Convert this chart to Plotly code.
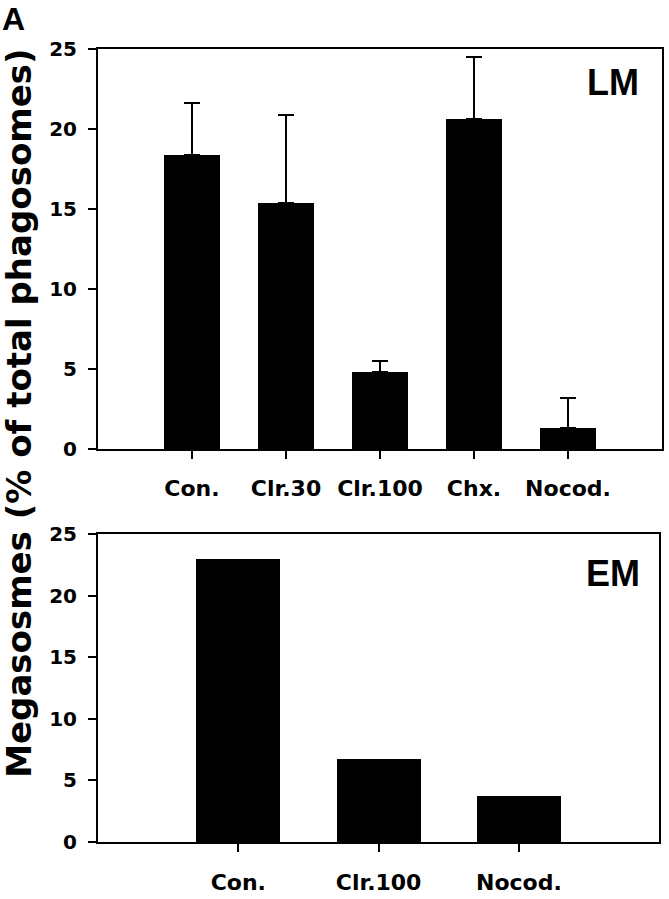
import plotly.graph_objects as go

# Top panel (LM)
lm_categories = ["Con.", "Clr.30", "Clr.100", "Chx.", "Nocod."]
lm_values = [18.4, 15.4, 4.8, 20.6, 1.3]
lm_err_upper = [3.2, 5.5, 0.7, 3.9, 1.9]

# Bottom panel (EM)
em_categories = ["Con.", "Clr.100", "Nocod."]
em_values = [23.0, 6.7, 3.7]

y_ticks = [0, 5, 10, 15, 20, 25]

FONT = "DejaVu Sans"
FONT2 = "Liberation Sans"

fig = go.Figure()
fig.add_trace(go.Bar(
    x=lm_categories, y=lm_values, width=0.6,
    marker=dict(color="black", line=dict(width=0)),
    error_y=dict(type="data", array=lm_err_upper, arrayminus=[0] * len(lm_err_upper),
                 symmetric=False, color="black", thickness=2, width=8),
    xaxis="x", yaxis="y", showlegend=False,
))
fig.add_trace(go.Bar(
    x=em_categories, y=em_values, width=0.6,
    marker=dict(color="black", line=dict(width=0)),
    xaxis="x2", yaxis="y2", showlegend=False,
))

axis_common = dict(
    showline=True, linecolor="black", linewidth=2, mirror=True,
    showgrid=False, zeroline=False, automargin=False,
    ticks="outside", ticklen=8, tickwidth=2, tickcolor="black",
)

fig.update_layout(
    width=669, height=899,
    margin=dict(l=98, r=7, t=49, b=57),
    paper_bgcolor="white", plot_bgcolor="white",
    bargap=0,
    xaxis=dict(domain=[0, 1], anchor="y", type="category", range=[-1, 5],
               tickfont=dict(family=FONT, size=22, color="black", weight="bold"),
               ticklabelstandoff=11, **axis_common),
    yaxis=dict(domain=[0.4956, 1], anchor="x", range=[0, 25], tickvals=y_ticks,
               tickfont=dict(family=FONT, size=20, color="black", weight="bold"),
               ticklabelstandoff=7, **axis_common),
    xaxis2=dict(domain=[0, 0.995], anchor="y2", type="category", range=[-1, 3],
                tickfont=dict(family=FONT, size=22, color="black", weight="bold"),
                ticklabelstandoff=12, **axis_common),
    yaxis2=dict(domain=[0, 0.3878], anchor="x2", range=[0, 25], tickvals=y_ticks,
                tickfont=dict(family=FONT, size=20, color="black", weight="bold"),
                ticklabelstandoff=7, **axis_common),
    annotations=[
        dict(text="Megasosmes (% of total phagosomes)", textangle=-90,
             xref="paper", yref="paper", x=-0.140, y=0.5400,
             xanchor="center", yanchor="middle", showarrow=False,
             font=dict(family=FONT, size=34, color="black", weight="bold")),
        dict(text="LM", xref="paper", yref="paper", x=0.913, y=0.958,
             xanchor="center", yanchor="middle", showarrow=False,
             font=dict(family=FONT2, size=36, color="black", weight="bold")),
        dict(text="EM", xref="paper", yref="paper", x=0.913, y=0.338,
             xanchor="center", yanchor="middle", showarrow=False,
             font=dict(family=FONT2, size=36, color="black", weight="bold")),
        dict(text="A", xref="paper", yref="paper", x=(0 - 98) / 564, y=(842 + 1) / 793,
             xanchor="left", yanchor="top", showarrow=False,
             font=dict(family=FONT2, size=32, color="black", weight="bold")),
    ],
)

fig.write_html("out.html", config={"displayModeBar": False},
               post_script="document.body.style.margin='0';")
